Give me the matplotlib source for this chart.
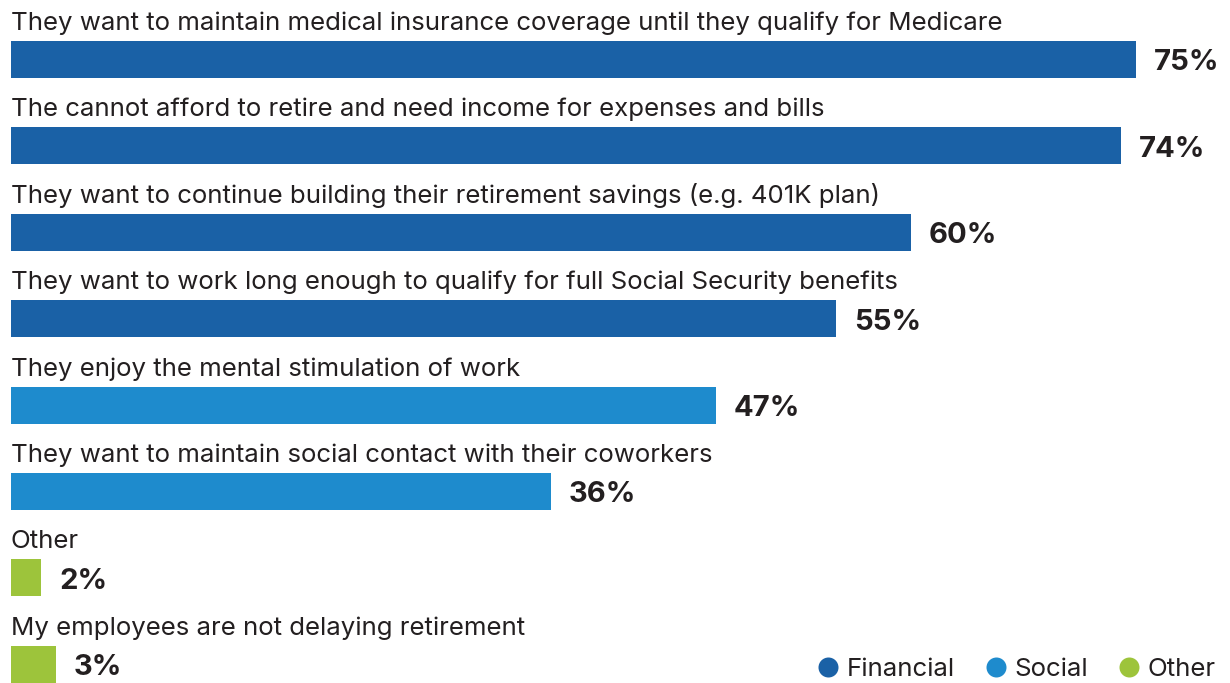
import matplotlib
matplotlib.use("Agg")
import matplotlib.pyplot as plt
from matplotlib.lines import Line2D

# Reasons employees are delaying retirement (share of employers)
categories = [
    "They want to maintain medical insurance coverage until they qualify for Medicare",
    "The cannot afford to retire and need income for expenses and bills",
    "They want to continue building their retirement savings (e.g. 401K plan)",
    "They want to work long enough to qualify for full Social Security benefits",
    "They enjoy the mental stimulation of work",
    "They want to maintain social contact with their coworkers",
    "Other",
    "My employees are not delaying retirement",
]
values = [75, 74, 60, 55, 47, 36, 2, 3]
groups = ["Financial", "Financial", "Financial", "Financial",
          "Social", "Social", "Other", "Other"]
legend_order = ["Financial", "Social", "Other"]

palette = {"Financial": "#1a61a6", "Social": "#1e8bcd", "Other": "#9dc43b"}
text_color = "#231f20"
font = ["Inter", "DejaVu Sans"]

W, H = 1230, 683
fig = plt.figure(figsize=(W / 100, H / 100), dpi=100)
ax = fig.add_axes([0, 0, 1, 1])

# pixel-based layout: 15 px per percentage point, bars every ~86 px
px_per_pct = 15.0
left_px = 11
pitch = 86.4
bar_px = 37
first_center = 59.5

ax.set_xlim(-left_px / px_per_pct, (W - left_px) / px_per_pct)
ax.set_ylim((H - first_center) / pitch, -first_center / pitch)
ax.axis("off")

pos = list(range(len(categories)))
bar_h = bar_px / pitch
ax.barh(pos, values, height=bar_h, color=[palette[g] for g in groups], linewidth=0)

for i, (cat, v) in enumerate(zip(categories, values)):
    ax.text(0, i - bar_h / 2 - 11 / pitch, cat, ha="left", va="baseline",
            fontsize=18.6, family=font, color=text_color)
    ax.annotate(f"{v}%", xy=(v, i), xytext=(18, -11), textcoords="offset pixels",
                ha="left", va="baseline", fontsize=21, fontweight="bold",
                family=font, color=text_color)

handles = [Line2D([], [], marker="o", linestyle="", markersize=14.4,
                  markerfacecolor=palette[g], markeredgewidth=0, label=g)
           for g in legend_order]
leg = fig.legend(handles=handles, loc="center right",
                 bbox_to_anchor=(1216 / W, 1 - 669 / H), ncol=3, frameon=False,
                 borderpad=0, borderaxespad=0, handlelength=0.8,
                 handletextpad=0.32, columnspacing=1.2,
                 prop={"family": font, "size": 18.6})
for t in leg.get_texts():
    t.set_color(text_color)

fig.savefig("out.png", dpi=100)
